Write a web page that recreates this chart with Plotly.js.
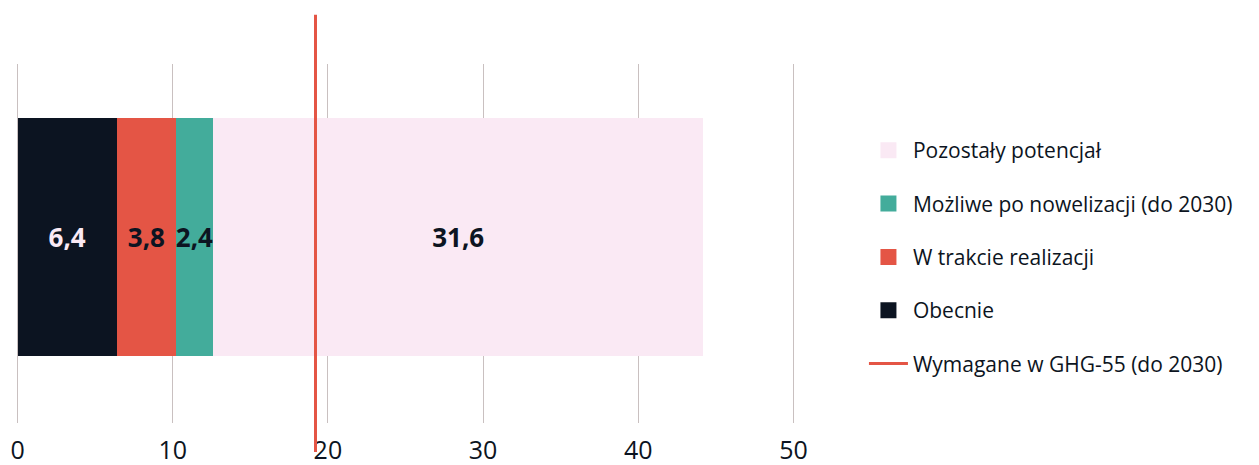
<!DOCTYPE html>
<html>
<head>
<meta charset="utf-8">
<script src="https://cdn.plot.ly/plotly-3.0.1.min.js"></script>
<style>html,body{margin:0;padding:0;background:#fff;}#chart{width:1259px;height:465px;}</style>
</head>
<body>
<div id="chart"></div>
<script>
const category = ["Moc"];
const seriesNames = ["Obecnie", "W trakcie realizacji", "Możliwe po nowelizacji (do 2030)", "Pozostały potencjał"];
const seriesValues = [6.4, 3.8, 2.4, 31.6];
const seriesColors = ["#0c1421", "#e45545", "#43ac9b", "#fae9f4"];
const labelColors = ["#fae9f4", "#0c1421", "#0c1421", "#0c1421"];
const legendRanks = [4, 3, 2, 1];
const targetName = "Wymagane w GHG-55 (do 2030)";
const targetValue = 19.2;
const tickValues = [0, 10, 20, 30, 40, 50];
const tickLabels = ["0", "10", "20", "30", "40", "50"];

const FONT = "'Open Sans', 'Noto Sans', sans-serif";
const DARK = "#0c1421";

// Bars (data marks)
const traces = seriesNames.map((name, i) => ({
  type: "bar",
  orientation: "h",
  name: name,
  y: category,
  x: [seriesValues[i]],
  width: 0.663,
  marker: {color: seriesColors[i], line: {width: 0}},
  text: [seriesValues[i].toFixed(1).replace(".", ",")],
  textposition: "inside",
  insidetextanchor: "middle",
  constraintext: "none",
  textangle: 0,
  textfont: {family: FONT, size: 26, color: labelColors[i], weight: 700},
  hoverinfo: "skip",
  showlegend: false
}));

// Legend entries (larger square symbols)
seriesNames.forEach((name, i) => {
  traces.push({
    type: "scatter",
    mode: "markers",
    name: name,
    x: [null],
    y: [null],
    marker: {symbol: "square", size: 16, color: seriesColors[i]},
    legendrank: legendRanks[i],
    legendgroup: "g" + i,
    hoverinfo: "skip"
  });
});

traces.push({
  type: "scatter",
  mode: "lines",
  name: targetName,
  x: [null],
  y: [null],
  line: {color: "#e45545", width: 3},
  legendrank: 5,
  legendgroup: "g5",
  hoverinfo: "skip"
});

const layout = {
  width: 1259,
  height: 465,
  margin: {l: 15.75, r: 464.45, t: 64, b: 42},
  paper_bgcolor: "#ffffff",
  plot_bgcolor: "#ffffff",
  barmode: "stack",
  showlegend: true,
  font: {family: FONT, color: DARK},
  xaxis: {
    range: [-0.1, 50.1],
    tickvals: tickValues,
    ticktext: tickLabels,
    showgrid: true,
    gridcolor: "#c9c0c0",
    gridwidth: 1,
    zeroline: false,
    showline: false,
    ticks: "",
    ticklabelstandoff: 10,
    tickfont: {family: FONT, size: 25, color: DARK},
    automargin: false,
    fixedrange: true
  },
  yaxis: {
    range: [-0.518, 0.482],
    showticklabels: false,
    showgrid: false,
    zeroline: false,
    showline: false,
    ticks: "",
    automargin: false,
    fixedrange: true
  },
  legend: {
    x: 1.0885,
    xanchor: "left",
    y: 0.462,
    yanchor: "middle",
    traceorder: "grouped",
    tracegroupgap: 23,
    font: {family: FONT, size: 21, color: DARK},
    itemwidth: 39,
    bgcolor: "rgba(0,0,0,0)"
  },
  shapes: [{
    type: "line",
    xref: "x",
    yref: "paper",
    x0: targetValue,
    x1: targetValue,
    y0: -0.081,
    y1: 1.137,
    line: {color: "#e45545", width: 3},
    layer: "above"
  }]
};

Plotly.newPlot("chart", traces, layout, {displayModeBar: false, staticPlot: true});
</script>
</body>
</html>
